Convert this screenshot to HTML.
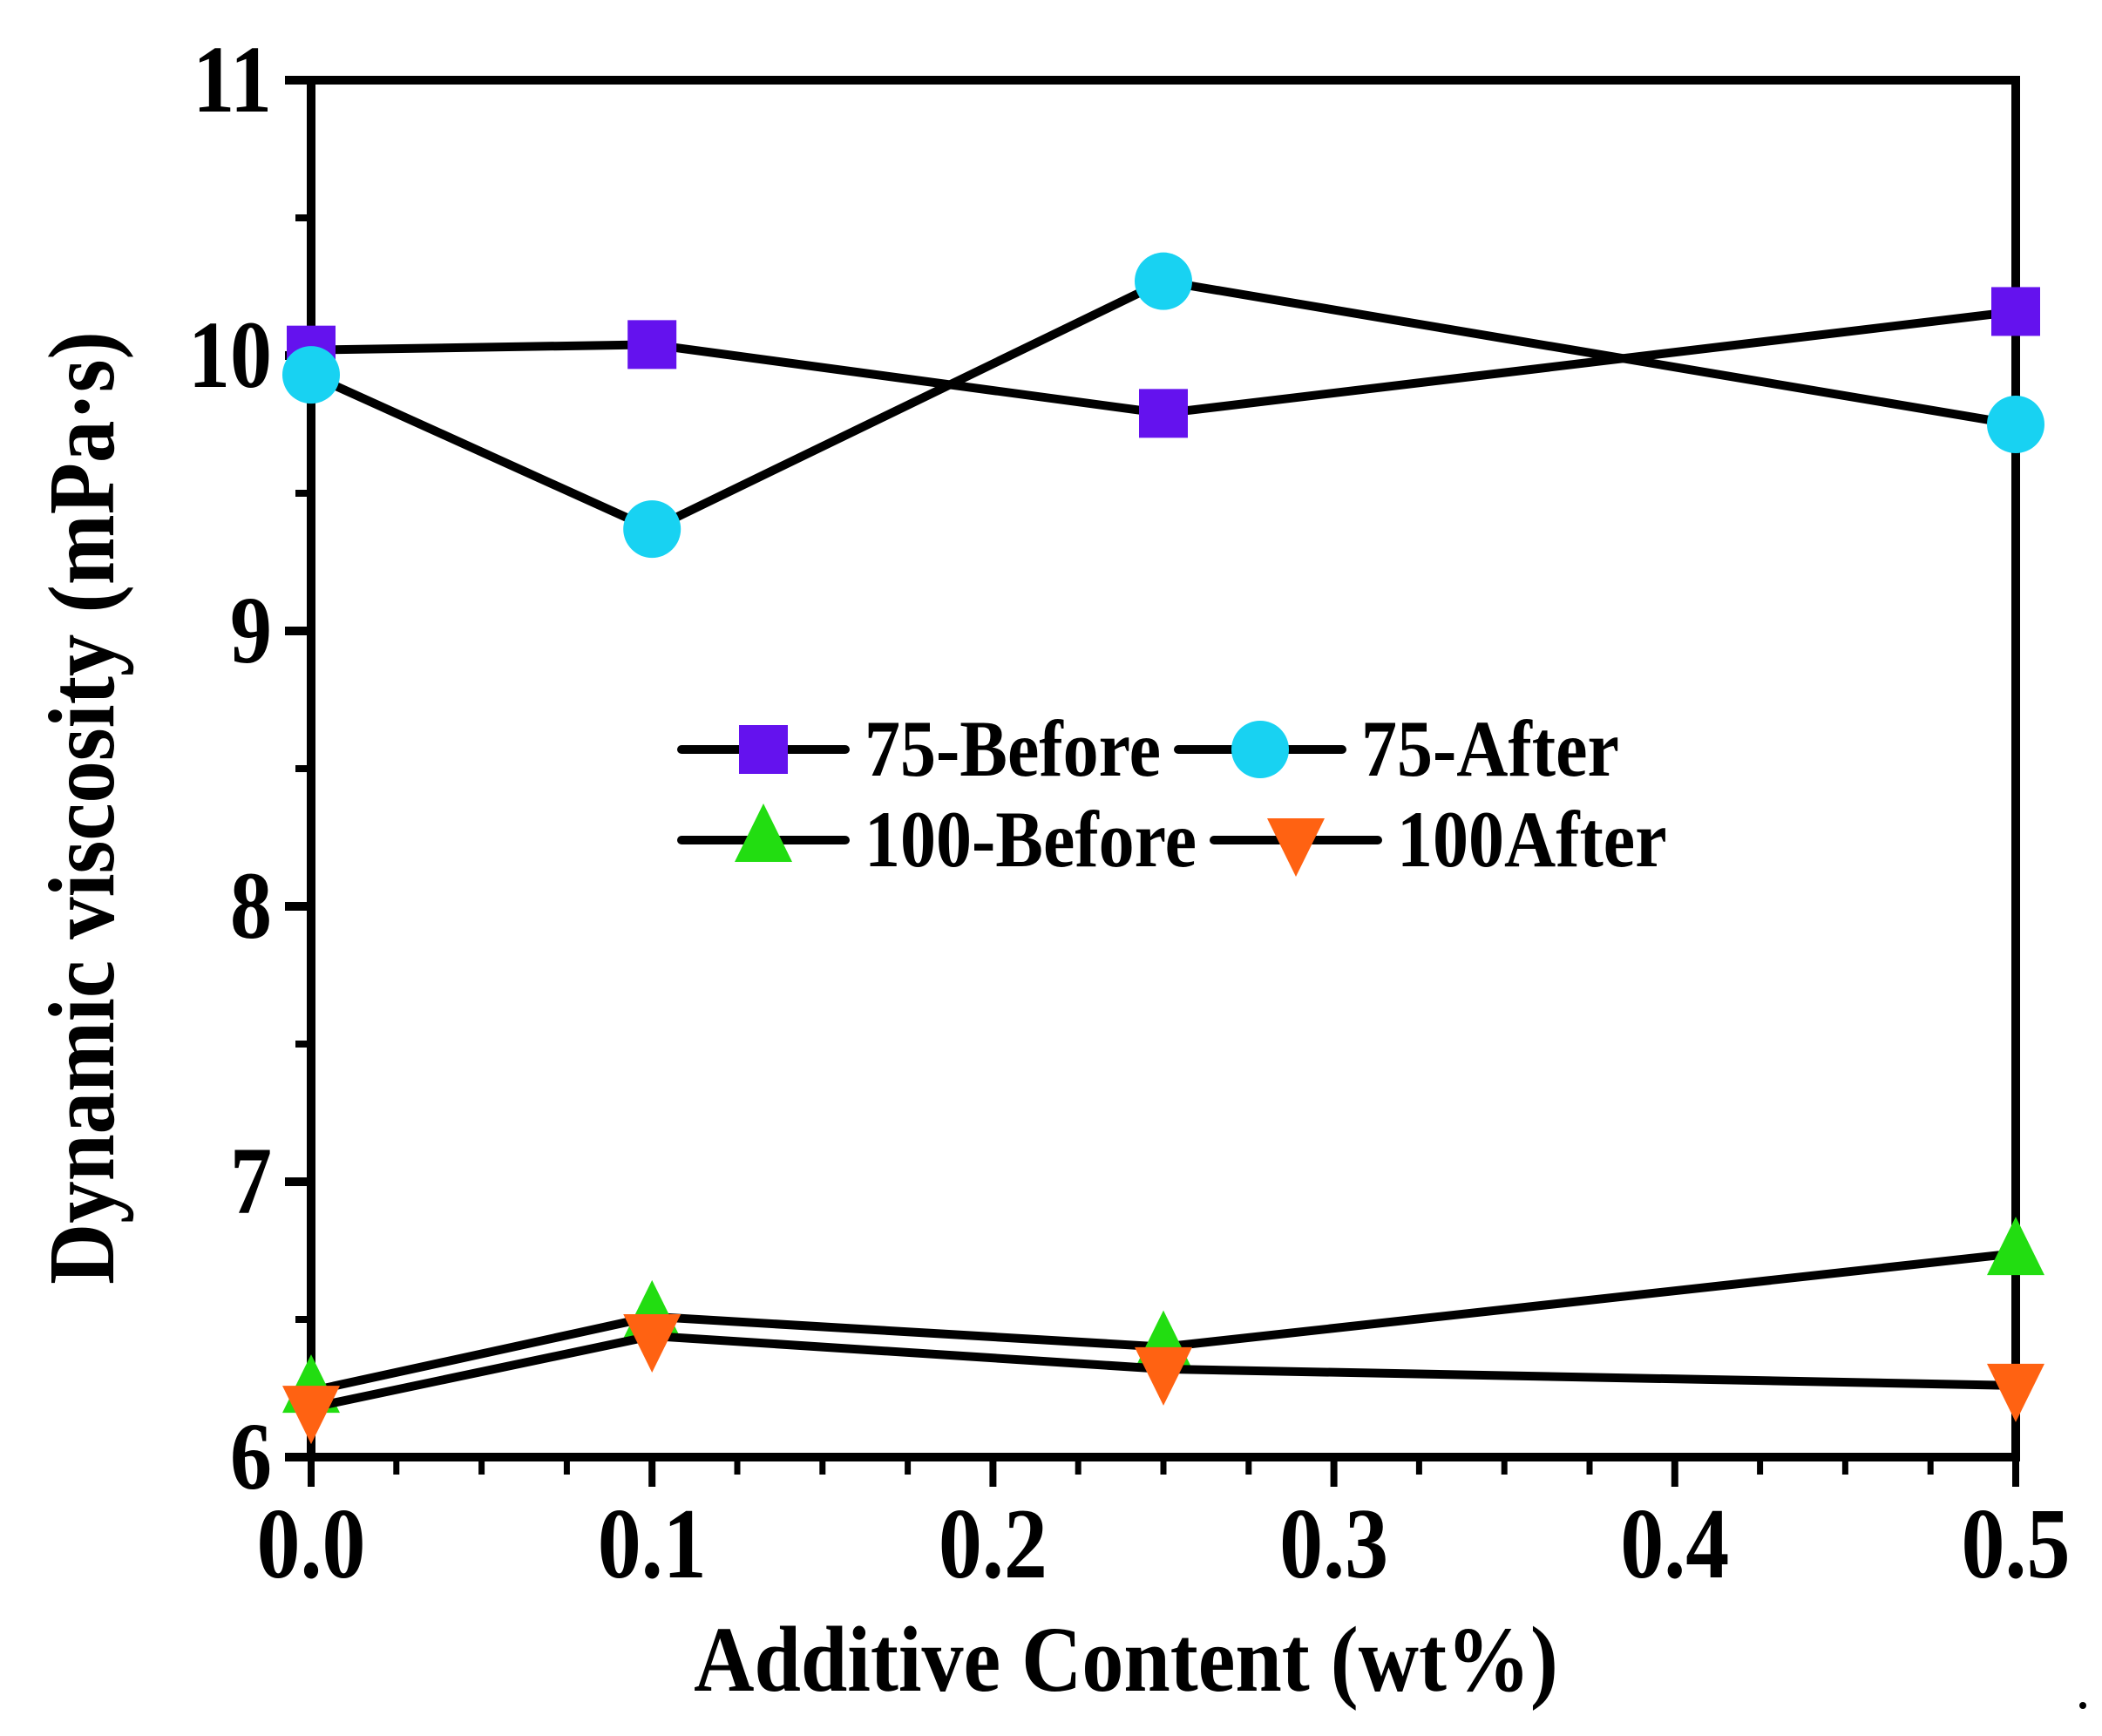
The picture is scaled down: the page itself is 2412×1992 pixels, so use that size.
<!DOCTYPE html>
<html><head><meta charset="utf-8"><style>
html,body{margin:0;padding:0;background:#fff;}
svg{display:block;}
text{font-family:"Liberation Serif",serif;font-weight:bold;fill:#000;}
</style></head><body>
<svg id="chart" width="2412" height="1992" viewBox="0 0 2412 1992" xmlns="http://www.w3.org/2000/svg">
<g id="grid-axes"></g>
<g id="series"></g>
<g id="legend"></g>
</svg>
<script>
const xValues = [0, 0.1, 0.25, 0.5];
const before75 = [10.02, 10.04, 9.79, 10.16];
const after75 = [9.93, 9.37, 10.27, 9.75];
const before100 = [6.24, 6.51, 6.40, 6.74];
const after100 = [6.18, 6.44, 6.32, 6.26];
const xTicks = ["0.0","0.1","0.2","0.3","0.4","0.5"];
const yTicks = ["6","7","8","9","10","11"];

const NS = "http://www.w3.org/2000/svg";
const L = 357, R = 2313, T = 92, B = 1672;
const xS = v => L + (v - 0) / 0.5 * (R - L);
const yS = v => B - (v - 6) / 5 * (B - T);
function mk(tag, attrs, parent){const e=document.createElementNS(NS,tag);for(const k in attrs)e.setAttribute(k,attrs[k]);parent.appendChild(e);return e;}
const ax = document.getElementById('grid-axes');
const sg = document.getElementById('series');
const lg = document.getElementById('legend');

const frame = mk('rect',{x:L,y:T,width:R-L,height:B-T,fill:'none',stroke:'#000','stroke-width':10},ax);



yTicks.forEach(t=>{
  const v=parseFloat(t), y=yS(v);
  const tk=mk('line',{x1:L-30,x2:L,y1:y,y2:y,stroke:'#000','stroke-width':10},ax);
  
  
  const tx=mk('text',{x:0,y:0,'text-anchor':'end','font-size':96,transform:`translate(${L-45},${y+36}) scale(1,1.15)`},ax);
  tx.textContent=t;
  
  
  if(v<11){
    const ym=yS(v+0.5);
    const mt=mk('line',{x1:L-18,x2:L,y1:ym,y2:ym,stroke:'#000','stroke-width':8},ax);
    
    
  }
});
xTicks.forEach(t=>{
  const v=parseFloat(t), x=xS(v);
  const tk=mk('line',{x1:x,x2:x,y1:B,y2:B+34,stroke:'#000','stroke-width':8},ax);
  
  
  const tx=mk('text',{x:0,y:0,'text-anchor':'middle','font-size':100,transform:`translate(${x},${B+138}) scale(1,1.15)`},ax);
  tx.textContent=t;
  
  
  if(v<0.5){
    [0.025,0.05,0.075].forEach(d=>{
      const xm=xS(v+d);
      const mt=mk('line',{x1:xm,x2:xm,y1:B,y2:B+20,stroke:'#000','stroke-width':7},ax);
      
      
    });
  }
});
const xt=mk('text',{x:0,y:0,'text-anchor':'middle','font-size':96,transform:'translate(1292,1940) scale(1,1.12)'},ax);
xt.textContent='Additive Content (wt%)';


const yt=mk('text',{x:0,y:0,'text-anchor':'middle','font-size':97,transform:'translate(130,927) rotate(-90) scale(1,1.12)'},ax);
yt.textContent='Dynamic viscosity (mPa\u00B7s)';


const dot=mk('circle',{cx:2390,cy:1957,r:4,fill:'#000'},ax);



function marker(kind,cx,cy,parent){
  let e;
  if(kind==='square') e=mk('rect',{x:cx-28,y:cy-28,width:56,height:56,fill:'#6412ee'},parent);
  else if(kind==='circle') e=mk('circle',{cx:cx,cy:cy,r:33,fill:'#18d2f2'},parent);
  else if(kind==='up') e=mk('polygon',{points:`${cx},${cy-42} ${cx-33},${cy+25} ${cx+33},${cy+25}`,fill:'#22dd11'},parent);
  else e=mk('polygon',{points:`${cx},${cy+42} ${cx-33},${cy-25} ${cx+33},${cy-25}`,fill:'#ff6212'},parent);
  return e;
}
const seriesDefs=[
  {name:'75-before',vals:before75,kind:'square',label:'75-Before'},
  {name:'75-after',vals:after75,kind:'circle',label:'75-After'},
  {name:'100-before',vals:before100,kind:'up',label:'100-Before'},
  {name:'100-after',vals:after100,kind:'down',label:'100After'}
];
seriesDefs.forEach(s=>{
  const g=mk('g',{},sg);
  
  
  const pts=s.vals.map((v,i)=>xS(xValues[i])+','+yS(v)).join(' ');
  const pl=mk('polyline',{points:pts,fill:'none',stroke:'#000','stroke-width':10,'stroke-linejoin':'miter'},g);
  
  
  s.vals.forEach((v,i)=>{
    const m=marker(s.kind,xS(xValues[i]),yS(v),g);
    
    
  });
});
const legPos=[[782,860],[1352,860],[782,964],[1393,964]];
seriesDefs.forEach((s,i)=>{
  const [x0,y]=legPos[i];
  const g=mk('g',{},lg);
  
  
  const w = 188;
  mk('line',{x1:x0,x2:x0+w,y1:y,y2:y,stroke:'#000','stroke-width':10,'stroke-linecap':'round'},g);
  marker(s.kind,x0+w/2,y,g);
  const tx=mk('text',{x:0,y:0,'font-size':82,transform:`translate(${x0+w+22},${y+30}) scale(1,1.12)`},g);
  tx.textContent=s.label;
});
</script>
</body></html>
